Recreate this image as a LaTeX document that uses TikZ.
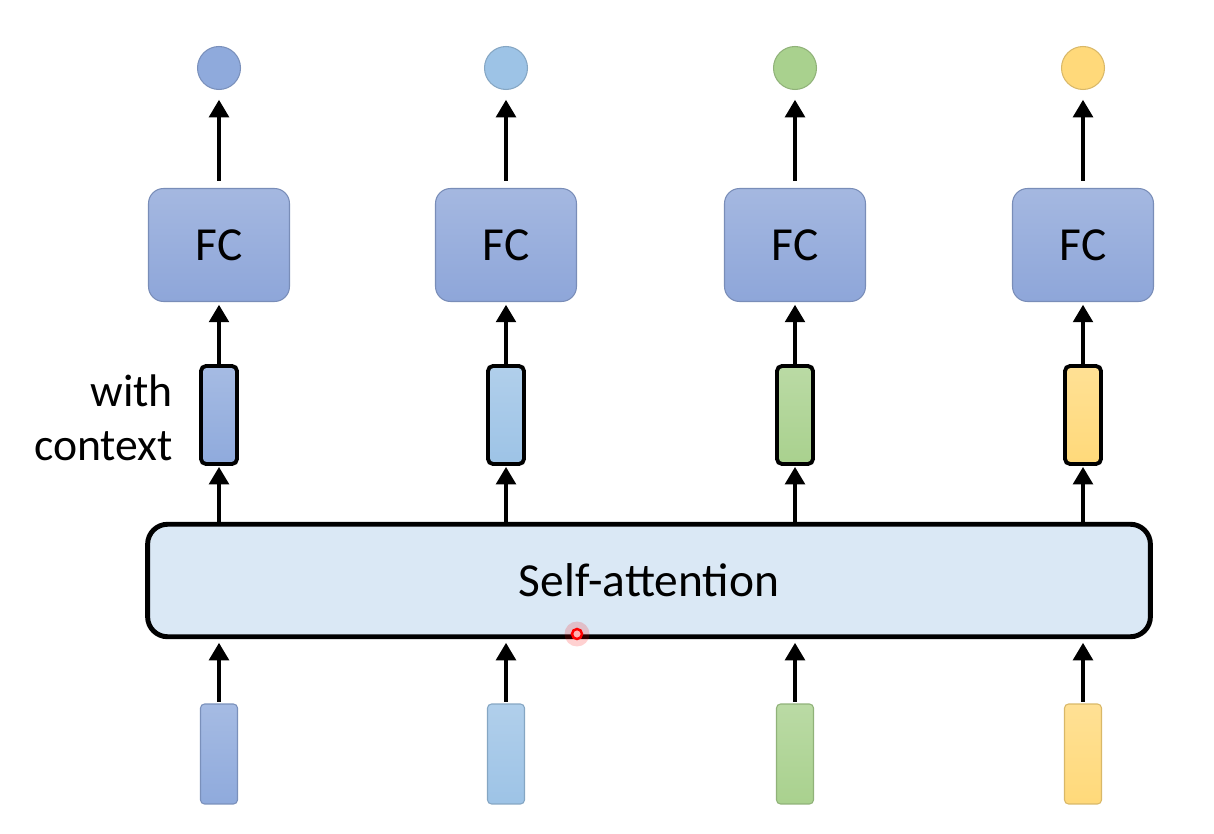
\documentclass[tikz,border=0pt]{standalone}
\usepackage{fontspec}
\setmainfont{Carlito}
\usetikzlibrary{arrows.meta}
\definecolor{vecblue}{HTML}{8FAADC}
\definecolor{veclight}{HTML}{9DC3E6}
\definecolor{vecgreen}{HTML}{A9D18E}
\definecolor{vecyellow}{HTML}{FFD97A}
\definecolor{fcfill}{HTML}{8EA6D9}
\definecolor{safill}{HTML}{DAE8F5}

\begin{document}
\begin{tikzpicture}[
    x=0.02cm, y=-0.02cm,
    invec/.style={rectangle,rounded corners=0.08cm,draw=#1!85!black,line width=0.6pt,top color=#1!80!white,bottom color=#1,minimum width=0.74cm,minimum height=2.0cm,inner sep=0pt},
    ctxvec/.style={rectangle,rounded corners=0.1cm,draw=black,line width=2.2pt,top color=#1!80!white,bottom color=#1,minimum width=0.72cm,minimum height=1.96cm,inner sep=0pt},
    fc/.style={rectangle,rounded corners=0.3cm,draw=fcfill!85!black,line width=0.6pt,top color=fcfill!80!white,bottom color=fcfill,minimum width=2.82cm,minimum height=2.26cm,font=\fontsize{27}{32}\selectfont},
    outdot/.style={circle,draw=#1!85!black,line width=0.6pt,fill=#1,minimum size=0.86cm,inner sep=0pt},
    selfatt/.style={rectangle,rounded corners=0.4cm,draw=black,line width=2.8pt,fill=safill,minimum width=20.06cm,minimum height=2.25cm,font=\fontsize{27}{32}\selectfont},
    flow/.style={line width=2.8pt,-{Triangle[length=10pt,width=11pt]}}]
    \useasboundingbox (0,0) rectangle (1214,834);
    % input vectors
    \node[invec=vecblue] (in1) at (219,754) {};
    \node[invec=veclight] (in2) at (506,754) {};
    \node[invec=vecgreen] (in3) at (795,754) {};
    \node[invec=vecyellow] (in4) at (1083,754) {};
    \node[selfatt] (sa) at (649,580.5) {Self-attention};
    % vectors with context
    \node[ctxvec=vecblue] (ctx1) at (219,415) {};
    \node[ctxvec=veclight] (ctx2) at (506,415) {};
    \node[ctxvec=vecgreen] (ctx3) at (795,415) {};
    \node[ctxvec=vecyellow] (ctx4) at (1083,415) {};
    \node[anchor=east,align=right,font=\fontsize{26}{31}\selectfont] (ctxlabel) at (179,418) {with\\context};
    \node[fc] (fc1) at (219,245) {FC};
    \node[fc] (fc2) at (506,245) {FC};
    \node[fc] (fc3) at (795,245) {FC};
    \node[fc] (fc4) at (1083,245) {FC};
    \node[outdot=vecblue] (out1) at (219,68) {};
    \node[outdot=veclight] (out2) at (506,68) {};
    \node[outdot=vecgreen] (out3) at (795,68) {};
    \node[outdot=vecyellow] (out4) at (1083,68) {};
    % laser pointer
    \node[circle,fill=red,opacity=0.18,minimum size=0.5cm] (glow) at (577,634) {};
    \node[circle,draw=red,line width=1.4pt,fill=red!30!white,minimum size=0.2cm,inner sep=0pt] (pointer) at (577,634) {};
    \path[flow,shorten <=1pt,shorten >=2pt] (in1) edge (in1 |- sa.south);
    \path[flow,shorten <=1pt,shorten >=2pt] (in2) edge (in2 |- sa.south);
    \path[flow,shorten <=1pt,shorten >=2pt] (in3) edge (in3 |- sa.south);
    \path[flow,shorten <=1pt,shorten >=2pt] (in4) edge (in4 |- sa.south);
    \path[flow,shorten >=0.5pt] (sa.north -| ctx1) edge (ctx1);
    \path[flow,shorten >=0.5pt] (sa.north -| ctx2) edge (ctx2);
    \path[flow,shorten >=0.5pt] (sa.north -| ctx3) edge (ctx3);
    \path[flow,shorten >=0.5pt] (sa.north -| ctx4) edge (ctx4);
    \path[flow,shorten >=1.5pt] (ctx1) edge (fc1);
    \path[flow,shorten >=1.5pt] (ctx2) edge (fc2);
    \path[flow,shorten >=1.5pt] (ctx3) edge (fc3);
    \path[flow,shorten >=1.5pt] (ctx4) edge (fc4);
    \path[flow,shorten <=4pt,shorten >=5.5pt] (fc1) edge (out1);
    \path[flow,shorten <=4pt,shorten >=5.5pt] (fc2) edge (out2);
    \path[flow,shorten <=4pt,shorten >=5.5pt] (fc3) edge (out3);
    \path[flow,shorten <=4pt,shorten >=5.5pt] (fc4) edge (out4);
\end{tikzpicture}
\end{document}
